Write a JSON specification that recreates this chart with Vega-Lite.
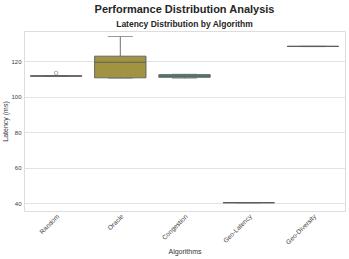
{
  "$schema": "https://vega.github.io/schema/vega-lite/v6.json",
  "width": 349,
  "height": 259,
  "autosize": {"type": "fit", "contains": "padding"},
  "padding": {"left": 1, "top": 3, "right": 4, "bottom": 4},
  "background": "white",
  "config": {
    "font": "Liberation Sans",
    "view": {"stroke": "#dddddd", "strokeWidth": 1},
    "axis": {"gridColor": "#e3e3e3", "domain": false, "ticks": false, "labelColor": "#3a3a3a", "titleColor": "#333", "titleFontWeight": "normal"}
  },
  "title": {
    "text": "Performance Distribution Analysis",
    "subtitle": "Latency Distribution by Algorithm",
    "fontSize": 11,
    "fontWeight": "bold",
    "color": "#262626",
    "subtitleFontSize": 8.5,
    "subtitleFontWeight": "bold",
    "subtitleColor": "#262626",
    "subtitlePadding": 5,
    "anchor": "middle",
    "offset": 3
  },
  "datasets": {
    "stats": [
      {"algorithm": "Random", "lower": 111.4, "q1": 111.5, "median": 111.6, "q3": 111.8, "upper": 111.9},
      {"algorithm": "Oracle", "lower": 110.4, "q1": 110.6, "median": 119.3, "q3": 122.8, "upper": 133.9},
      {"algorithm": "Congestion", "lower": 110.4, "q1": 110.9, "median": 111.6, "q3": 112.4, "upper": 112.6},
      {"algorithm": "Geo-Latency", "lower": 40.1, "q1": 40.15, "median": 40.2, "q3": 40.25, "upper": 40.3},
      {"algorithm": "Geo-Diversity", "lower": 128.2, "q1": 128.25, "median": 128.3, "q3": 128.35, "upper": 128.4}
    ],
    "outliers": [
      {"algorithm": "Random", "latency": 113.3}
    ]
  },
  "data": {"name": "stats"},
  "encoding": {
    "x": {
      "field": "algorithm",
      "type": "nominal",
      "sort": ["Random", "Oracle", "Congestion", "Geo-Latency", "Geo-Diversity"],
      "scale": {"paddingInner": 0.2, "paddingOuter": 0.1},
      "axis": {"title": "Algorithms", "labelAngle": -45, "labelFontSize": 6.5, "titleFontSize": 7, "grid": false, "labelPadding": 2, "titlePadding": 2}
    }
  },
  "layer": [
    {
      "mark": {"type": "rule", "color": "#707070", "strokeWidth": 1},
      "encoding": {
        "y": {"field": "lower", "type": "quantitative", "scale": {"domain": [35.5, 137], "nice": false, "zero": false},
          "axis": {"title": "Latency (ms)", "values": [40, 60, 80, 100, 120], "labelFontSize": 6, "titleFontSize": 7, "labelPadding": 3, "titlePadding": 2}},
        "y2": {"field": "upper"}
      }
    },
    {
      "mark": {"type": "tick", "color": "#707070", "thickness": 1, "size": 25},
      "encoding": {"y": {"field": "lower", "type": "quantitative"}}
    },
    {
      "mark": {"type": "tick", "color": "#707070", "thickness": 1, "size": 25},
      "encoding": {"y": {"field": "upper", "type": "quantitative"}}
    },
    {
      "mark": {"type": "bar", "stroke": "#666666", "strokeWidth": 1, "width": {"band": 1}},
      "encoding": {
        "y": {"field": "q1", "type": "quantitative"},
        "y2": {"field": "q3"},
        "color": {
          "field": "algorithm",
          "type": "nominal",
          "scale": {"domain": ["Random", "Oracle", "Congestion", "Geo-Latency", "Geo-Diversity"], "range": ["#d9788a", "#a09341", "#3a9a6e", "#4a9cb6", "#b07ad8"]},
          "legend": null
        }
      }
    },
    {
      "mark": {"type": "tick", "color": "#5a5a5a", "thickness": 1.3, "size": 51},
      "encoding": {"y": {"field": "median", "type": "quantitative"}}
    },
    {
      "data": {"name": "outliers"},
      "mark": {"type": "point", "shape": "circle", "filled": false, "stroke": "#707070", "strokeWidth": 0.8, "size": 14},
      "encoding": {"y": {"field": "latency", "type": "quantitative"}}
    }
  ]
}
